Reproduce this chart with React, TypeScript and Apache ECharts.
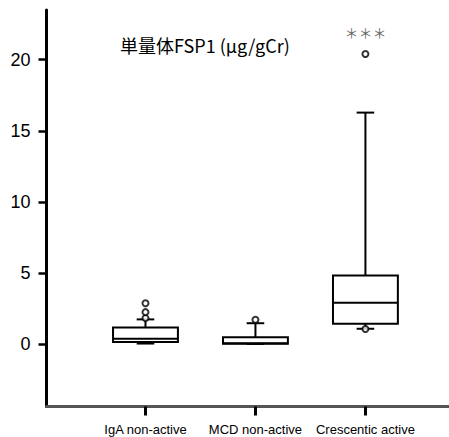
import React, { useEffect, useRef } from "react";
import * as echarts from "echarts";

const categories = ["IgA non-active", "MCD non-active", "Crescentic active"];
// [lower whisker, Q1, median, Q3, upper whisker]
const boxStats = [
  [0.03, 0.13, 0.37, 1.16, 1.73],
  [0.0, 0.02, 0.05, 0.48, 1.46],
  [1.07, 1.42, 2.9, 4.82, 16.28],
];
const outliers = [[1.82, 2.24, 2.87], [1.7], [1.05, 20.4]];
const yTicks = [0, 5, 10, 15, 20];
const titleText = "単量体FSP1 (μg/gCr)";
const sigText = "＊＊＊";
const sigIndex = 2;

export default function App() {
  const ref = useRef<HTMLDivElement>(null);
  useEffect(() => {
    if (!ref.current) return;
    const chart = echarts.init(ref.current, null, { renderer: "svg" });
    const boxData = boxStats.map((s, i) => [i, ...s]);
    const outData: any[] = [];
    outliers.forEach((arr, i) => {
      const maxV = Math.max(...arr);
      arr.forEach((v) => {
        if (i === sigIndex && v === maxV) {
          outData.push({
            value: [i, v],
            label: {
              show: true,
              position: "top",
              distance: 11,
              formatter: sigText,
              color: "#444",
              fontSize: 14,
              fontFamily: "Noto Sans CJK JP",
            },
          });
        } else {
          outData.push([i, v]);
        }
      });
    });
    chart.setOption({
      animation: false,
      backgroundColor: "#fff",
      title: {
        text: titleText,
        left: 120,
        top: 36,
        padding: 0,
        textStyle: {
          fontSize: 18,
          fontWeight: "normal",
          color: "#000",
          fontFamily: "Noto Sans CJK JP",
        },
      },
      grid: { left: 46.5, right: 0, top: 10, bottom: 30.5 },
      xAxis: {
        type: "value",
        min: -0.9,
        max: 2.76,
        splitLine: { show: false },
        axisLine: { show: true, onZero: false, lineStyle: { color: "#555", width: 3 } },
        axisTick: {
          show: true,
          customValues: [0, 1, 2],
          length: 9,
          lineStyle: { color: "#000", width: 3 },
        },
        axisLabel: {
          customValues: [0, 1, 2],
          formatter: (v: number) => categories[Math.round(v)] ?? "",
          margin: 16,
          fontSize: 13,
          color: "#000",
          fontFamily: "Liberation Sans",
        },
      },
      yAxis: {
        type: "value",
        min: -4.4,
        max: 23.5,
        splitLine: { show: false },
        axisLine: { show: true, onZero: false, lineStyle: { color: "#000", width: 3 } },
        axisTick: {
          show: true,
          customValues: yTicks,
          length: 8,
          lineStyle: { color: "#000", width: 2.5 },
        },
        axisLabel: {
          customValues: yTicks,
          margin: 16,
          fontSize: 18,
          color: "#000",
          fontFamily: "Liberation Sans",
        },
      },
      series: [
        {
          type: "custom",
          data: boxData,
          encode: { x: 0, y: [1, 2, 3, 4, 5] },
          renderItem: (params: any, api: any) => {
            const x = api.value(0);
            const v = [1, 2, 3, 4, 5].map((d) => api.value(d));
            const p = v.map((val) => api.coord([x, val]));
            const cx = p[0][0];
            const band = api.size([1, 0])[0];
            const bw = band * 0.59;
            const cw = band * 0.16;
            const ls = { stroke: "#000", lineWidth: 2 };
            return {
              type: "group",
              children: [
                { type: "line", shape: { x1: cx, y1: p[3][1], x2: cx, y2: p[4][1] }, style: ls },
                { type: "line", shape: { x1: cx, y1: p[1][1], x2: cx, y2: p[0][1] }, style: ls },
                { type: "line", shape: { x1: cx - cw / 2, y1: p[4][1], x2: cx + cw / 2, y2: p[4][1] }, style: ls },
                { type: "line", shape: { x1: cx - cw / 2, y1: p[0][1], x2: cx + cw / 2, y2: p[0][1] }, style: ls },
                {
                  type: "rect",
                  shape: { x: cx - bw / 2, y: p[3][1], width: bw, height: p[1][1] - p[3][1] },
                  style: { fill: "#fff", stroke: "#000", lineWidth: 2 },
                },
                { type: "line", shape: { x1: cx - bw / 2, y1: p[2][1], x2: cx + bw / 2, y2: p[2][1] }, style: ls },
              ],
            };
          },
          z: 2,
        },
        {
          type: "scatter",
          data: outData,
          symbol: "circle",
          symbolSize: 6,
          itemStyle: { color: "#fff", borderColor: "#000", borderWidth: 2 },
          z: 3,
        },
      ],
    });
    return () => chart.dispose();
  }, []);
  return (
    <div
      ref={ref}
      style={{ position: "absolute", left: 0, top: 0, width: 449, height: 437 }}
    />
  );
}
